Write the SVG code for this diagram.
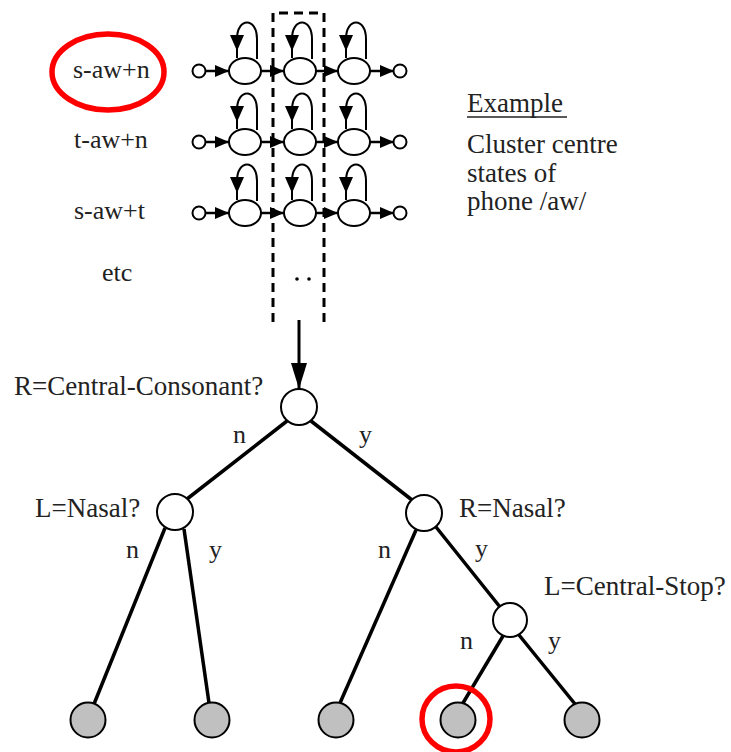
<svg xmlns="http://www.w3.org/2000/svg" width="731" height="752" viewBox="0 0 731 752">
<defs>
<marker id="ah" viewBox="0 0 14 12" refX="14" refY="6" markerWidth="14" markerHeight="12" markerUnits="userSpaceOnUse" orient="auto">
<path d="M0,0 L14,6 L0,12 Z" fill="#000"/>
</marker>
<marker id="ahb" viewBox="0 0 26 16" refX="26" refY="8" markerWidth="26" markerHeight="16" markerUnits="userSpaceOnUse" orient="auto">
<path d="M0,0 L26,8 L0,16 Z" fill="#000"/>
</marker>
<g id="loop">
<path d="M0,-13 L0,-32 C0,-54 20,-54 20,-32 L20,-12" fill="none" stroke="#000" stroke-width="2"/>
<path d="M-7,-36 L7,-36 L0,-20 Z" fill="#000"/>
</g>
<g id="hmm">
<circle cx="199" cy="0" r="6.5" class="st"/>
<ellipse cx="245" cy="0" rx="16" ry="13" class="st"/>
<ellipse cx="300" cy="0" rx="16" ry="13" class="st"/>
<ellipse cx="354" cy="0" rx="16" ry="13" class="st"/>
<circle cx="400" cy="0" r="6.5" class="st"/>
<line x1="205" y1="0" x2="229" y2="0" class="tr"/>
<line x1="261" y1="0" x2="284" y2="0" class="tr"/>
<line x1="316" y1="0" x2="338" y2="0" class="tr"/>
<line x1="370" y1="0" x2="394" y2="0" class="tr"/>
<use href="#loop" x="237"/>
<use href="#loop" x="292"/>
<use href="#loop" x="346"/>
</g>
</defs>
<style>
.st{fill:#fff;stroke:#000;stroke-width:2}
.tr{stroke:#000;stroke-width:2.5;marker-end:url(#ah)}
text{font-family:"Liberation Serif","Times New Roman",Tinos,"DejaVu Serif",serif;fill:#222}
.lbl{font-size:26px}
.big{font-size:27px}
.edge{stroke:#000;stroke-width:3.5;fill:none}
.node{fill:#fff;stroke:#000;stroke-width:2}
.leaf{fill:#c0c0c0;stroke:#000;stroke-width:2}
.red{fill:none;stroke:#f00;stroke-width:5.5}
</style>
<g id="hmm-rows">
<use href="#hmm" y="71"/>
<use href="#hmm" y="142"/>
<use href="#hmm" y="213"/>
</g>
<g id="cluster-box">
<path d="M273,322 L273,13 L324,13 L324,322" fill="none" stroke="#000" stroke-width="3" stroke-dasharray="9,6"/>
<circle cx="297" cy="279" r="1.8" fill="#000"/>
<circle cx="309" cy="279" r="1.8" fill="#000"/>
</g>
<g id="phone-labels">
<text class="lbl" x="73" y="78" font-family="Liberation Serif, serif">s-aw+n</text>
<text class="lbl" x="74" y="148" font-family="Liberation Serif, serif">t-aw+n</text>
<text class="lbl" x="74" y="219" font-family="Liberation Serif, serif">s-aw+t</text>
<text class="lbl" x="102" y="281" font-family="Liberation Serif, serif">etc</text>
<ellipse class="red" cx="108" cy="72" rx="56" ry="38"/>
</g>
<g id="example">
<text class="big" x="467" y="112" font-family="Liberation Serif, serif">Example</text>
<line x1="467" y1="117" x2="567" y2="117" stroke="#222" stroke-width="1.5"/>
<text class="big" x="467" y="153" font-family="Liberation Serif, serif">Cluster centre</text>
<text class="big" x="467" y="182" font-family="Liberation Serif, serif">states of</text>
<text class="big" x="467" y="210" font-family="Liberation Serif, serif">phone /aw/</text>
</g>
<g id="connectors">
<line x1="299" y1="320" x2="299" y2="389" stroke="#000" stroke-width="3" marker-end="url(#ahb)"/>
<line class="edge" x1="287" y1="421" x2="187" y2="499"/>
<line class="edge" x1="311" y1="421" x2="412" y2="500"/>
<line class="edge" x1="165" y1="528" x2="94" y2="704"/>
<line class="edge" x1="184" y1="529" x2="209" y2="703"/>
<line class="edge" x1="416" y1="530" x2="340" y2="703"/>
<line class="edge" x1="436" y1="527" x2="500" y2="607"/>
<line class="edge" x1="503" y1="636" x2="463" y2="703"/>
<line class="edge" x1="519" y1="635" x2="575" y2="704"/>
<text class="lbl" x="233" y="443" font-family="Liberation Serif, serif">n</text>
<text class="lbl" x="359" y="443" font-family="Liberation Serif, serif">y</text>
<text class="lbl" x="126" y="558" font-family="Liberation Serif, serif">n</text>
<text class="lbl" x="209" y="558" font-family="Liberation Serif, serif">y</text>
<text class="lbl" x="378" y="558" font-family="Liberation Serif, serif">n</text>
<text class="lbl" x="475" y="557" font-family="Liberation Serif, serif">y</text>
<text class="lbl" x="460" y="649" font-family="Liberation Serif, serif">n</text>
<text class="lbl" x="548" y="649" font-family="Liberation Serif, serif">y</text>
</g>
<g id="root">
<circle class="node" cx="299" cy="407" r="18"/>
<text class="big" x="14" y="395" font-family="Liberation Serif, serif">R=Central-Consonant?</text>
</g>
<g id="l-nasal">
<circle class="node" cx="175" cy="512" r="18"/>
<text class="big" x="35" y="517" font-family="Liberation Serif, serif">L=Nasal?</text>
</g>
<g id="r-nasal">
<circle class="node" cx="424" cy="513" r="18"/>
<text class="big" x="459" y="517" font-family="Liberation Serif, serif">R=Nasal?</text>
</g>
<g id="l-central-stop">
<circle class="node" cx="510" cy="620" r="17"/>
<text class="big" x="544" y="595" font-family="Liberation Serif, serif">L=Central-Stop?</text>
</g>
<g id="leaf1"><circle class="leaf" cx="88" cy="720" r="17.5"/></g>
<g id="leaf2"><circle class="leaf" cx="212" cy="720" r="17.5"/></g>
<g id="leaf3"><circle class="leaf" cx="336" cy="720" r="17.5"/></g>
<g id="leaf4"><circle class="leaf" cx="458" cy="720" r="17.5"/><ellipse class="red" cx="456" cy="719" rx="34" ry="33"/></g>
<g id="leaf5"><circle class="leaf" cx="582" cy="720" r="17.5"/></g>
</svg>
